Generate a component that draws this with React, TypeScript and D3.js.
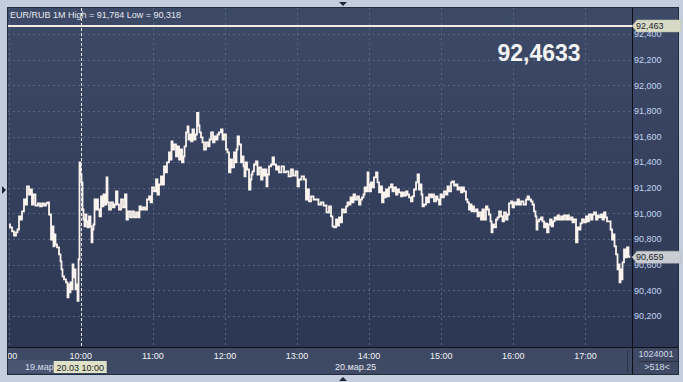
import React from 'react';
import * as d3 from 'd3';

// ---- data (minutes after 09:00 on 20.03, EUR/RUB price) ----
const minutes = [
  0.3,2.0,3.7,5.3,7.0,7.8,9.5,10.3,12.0,13.6,14.5,16.1,17.8,18.6,20.3,21.1,23.6,25.3,27.0,28.6,30.3,32.0,32.8,34.5,36.1,36.9,37.8,38.6,39.4,41.1,42.8,43.6,44.4,45.3,46.9,48.6,49.4,50.3,51.1,51.9,52.8,53.6,54.4,55.3,56.1,56.9,57.8,58.6,59.4,60.2,61.1,61.9,62.7,63.6,64.4,65.2,66.1,67.7,68.6,69.4,70.2,71.1,71.9,72.7,73.6,75.2,76.1,77.7,78.6,79.4,81.1,81.9,82.7,84.4,86.0,87.7,88.5,90.2,91.0,92.7,94.4,96.0,97.7,98.5,100.2,101.9,103.5,105.2,106.9,108.5,
  109.3,111.0,112.7,114.3,116.0,117.7,118.5,120.2,121.8,123.5,124.3,126.0,127.6,128.5,130.1,131.0,132.6,134.3,135.1,136.0,136.8,138.5,140.1,141.0,142.6,143.5,145.1,146.0,146.8,148.5,149.3,150.1,151.0,152.6,153.4,155.1,155.9,157.6,158.4,159.3,160.9,161.8,163.4,165.1,166.8,167.6,169.3,170.9,171.8,173.4,174.3,175.9,177.6,178.4,180.1,181.7,182.6,184.2,185.1,186.7,188.4,189.2,190.1,190.9,192.6,194.2,195.1,195.9,196.7,197.6,199.2,200.9,201.7,202.5,203.4,205.0,206.7,207.5,209.2,210.9,211.7,213.4,214.2,215.0,215.9,217.5,219.2,220.0,221.7,223.4,224.2,225.8,228.3,230.0,231.7,234.2,235.8,237.5,240.0,240.8,242.5,245.0,246.6,248.3,249.1,250.8,252.5,255.0,256.6,259.1,260.8,263.3,265.8,267.5,269.1,270.0,271.6,273.3,274.1,275.8,
  276.6,278.3,279.9,281.6,282.4,284.1,284.9,286.6,287.4,289.1,290.8,292.4,293.3,294.9,295.8,296.6,298.3,299.1,299.9,300.7,302.4,303.2,304.9,306.6,307.4,309.1,309.9,311.6,312.4,313.2,314.9,315.7,317.4,319.0,319.9,321.5,323.2,324.0,325.7,327.4,328.2,329.9,331.5,332.4,334.0,335.7,336.5,338.2,339.9,340.7,342.3,343.2,344.0,344.8,346.5,348.2,349.0,350.7,352.3,353.2,354.8,356.5,357.3,359.0,359.8,361.5,363.1,364.8,365.6,367.3,369.0,369.8,371.5,373.1,374.0,375.6,377.3,378.1,379.8,381.4,382.3,383.9,384.8,385.6,386.4,388.1,389.8,390.6,392.3,393.9,394.8,396.4,398.1,398.9,400.6,401.4,402.3,403.1,404.8,406.4,407.3,408.9,410.6,411.4,413.1,414.7,415.6,417.2,418.9,419.7,421.4,423.1,423.9,425.6,427.2,429.7,431.4,432.2,433.9,435.5,436.4,438.0,438.9,439.7,440.5,442.2,443.9,444.7,446.4,447.2,448.9,449.7,451.4,452.2,453.9,454.7,456.4,457.2,458.9,460.5,461.3,463.0,464.7,465.5,467.2,468.8,469.7,471.3,473.0,473.8,475.5,476.3,478.0,479.6,481.3,482.1,483.8,485.5,486.3,488.0,489.6,490.5,492.1,493.8,494.6,496.3,497.1,498.8,500.5,501.3,503.0,503.8,504.6,506.3,507.1,507.9,508.8,509.6,510.4,511.3,512.9,513.8,515.4,516.3,517.1
];
const prices = [
  90.914,90.891,90.860,90.828,90.852,90.875,90.977,90.953,91.016,91.109,91.070,91.211,91.148,91.187,91.070,91.148,91.062,91.078,91.055,91.078,91.062,91.078,91.086,90.992,90.797,90.899,90.743,90.836,90.758,90.735,90.680,90.626,90.563,90.509,90.485,90.462,90.345,90.446,90.384,90.462,90.407,90.602,90.501,90.563,90.407,90.446,90.318,90.641,91.398,91.304,91.242,91.031,90.953,90.899,90.992,90.938,90.891,90.977,90.899,90.774,90.875,90.914,91.109,91.031,91.109,91.031,90.977,91.133,91.055,91.148,91.070,91.281,91.086,91.031,91.086,91.047,91.070,91.172,91.070,91.031,91.109,91.047,91.148,90.953,91.016,90.969,91.016,90.969,91.008,90.969,
  91.055,91.031,91.047,91.031,91.109,91.133,91.086,91.203,91.172,91.265,91.148,91.226,91.289,91.226,91.367,91.320,91.398,91.476,91.421,91.562,91.499,91.538,91.445,91.523,91.421,91.499,91.398,91.445,91.523,91.632,91.679,91.577,91.616,91.562,91.655,91.577,91.616,91.784,91.686,91.632,91.593,91.554,91.499,91.554,91.523,91.577,91.632,91.554,91.601,91.577,91.616,91.632,91.655,91.577,91.616,91.499,91.476,91.320,91.421,91.359,91.476,91.398,91.499,91.601,91.538,91.398,91.445,91.367,91.289,91.398,91.343,91.187,91.265,91.304,91.328,91.382,91.406,91.304,91.359,91.265,91.343,91.296,91.343,91.211,91.304,91.367,91.382,91.437,91.382,91.343,91.367,91.320,91.367,91.320,91.328,91.289,91.343,91.296,91.328,91.211,91.265,91.289,91.265,91.109,91.187,91.094,91.133,91.109,91.109,91.070,91.086,91.062,91.008,91.055,90.977,90.899,90.891,90.953,90.906,90.969,
  90.930,91.031,91.008,91.055,91.086,91.070,91.125,91.086,91.148,91.109,91.133,91.070,91.109,91.125,91.148,91.203,91.172,91.320,91.226,91.172,91.242,91.203,91.281,91.320,91.242,91.164,91.211,91.086,91.164,91.125,91.187,91.133,91.203,91.226,91.172,91.203,91.148,91.187,91.164,91.133,91.164,91.140,91.172,91.148,91.125,91.094,91.133,91.187,91.242,91.304,91.187,91.226,91.148,91.055,91.070,91.125,91.086,91.148,91.125,91.148,91.094,91.133,91.109,91.070,91.148,91.125,91.172,91.148,91.211,91.172,91.242,91.250,91.218,91.226,91.187,91.203,91.164,91.203,91.172,91.109,91.086,91.031,91.070,91.016,91.055,91.016,91.031,90.977,91.008,90.953,91.031,90.953,91.055,91.031,90.992,90.938,90.852,90.914,90.891,90.953,90.969,91.016,90.977,90.938,91.008,90.953,90.992,91.078,91.094,91.047,91.086,91.070,91.109,91.070,91.094,91.070,91.109,91.133,91.109,91.094,91.070,91.016,90.977,90.875,90.938,90.953,90.969,90.938,90.891,90.922,90.852,90.914,90.953,90.899,90.938,90.969,90.953,90.984,90.953,90.977,90.953,90.984,90.953,90.984,90.953,90.969,90.930,90.953,90.774,90.891,90.875,90.922,90.953,90.930,90.977,90.938,90.992,90.953,90.992,91.008,90.953,90.984,90.969,90.992,90.953,91.008,90.969,90.938,90.938,90.875,90.797,90.836,90.743,90.680,90.563,90.602,90.462,90.563,90.485,90.618,90.719,90.657,90.735,90.665,90.659
];

const hourTicks = [0, 60, 120, 180, 240, 300, 360, 420, 480];
const hourLabels = ['9:00', '10:00', '11:00', '12:00', '13:00', '14:00', '15:00', '16:00', '17:00'];
const yTicks = [90.2, 90.4, 90.6, 90.8, 91.0, 91.2, 91.4, 91.6, 91.8, 92.0, 92.2, 92.4];
const timeDomain = [0, 518.75];
const priceDomain = [90.2, 92.4];
const levelPrice = 92.463;
const levelBigText = '92,4633';
const lastPrice = 90.659;
const cursorMinute = 60;
const cursorLabel = '20.03 10:00';
const prevDayLabel = '19.мар';
const dayLabel = '20.мар.25';
const symbol = 'EUR/RUB';
const interval = '1M';
const counterTop = '1024001';
const counterBottom = '>518<';

const W = 683, H = 382;
const L = 8, T = 8, R = 632, B = 347, PR = 678, PB = 374;
const FONT = '"Liberation Sans", Arial, sans-serif';

const fmt = (v: number) => v.toFixed(3).replace('.', ',');

export default function App() {
  const x = d3.scaleLinear().domain(timeDomain).range([8.6, R]);
  const y = d3.scaleLinear().domain(priceDomain).range([316, 34]);
  const pts = minutes.map((m, i) => [m, prices[i]] as [number, number]);
  const line = d3.line<[number, number]>().x(d => x(d[0])).y(d => y(d[1])).curve(d3.curveStep);
  const hi = d3.max(prices) as number;
  const lo = d3.min(prices) as number;
  const yLevel = y(levelPrice);
  const yLast = y(lastPrice);
  const xc = x(cursorMinute);

  const tag = (yc: number, x0: number, x1: number) =>
    `M${x0},${yc} L${x0 + 5},${yc - 6} L${x1},${yc - 6} L${x1},${yc + 6} L${x0 + 5},${yc + 6} Z`;

  return (
    <svg width={W} height={H} style={{ position: 'fixed', left: 0, top: 0, fontFamily: FONT }}>
      <defs>
        <linearGradient id="bg" x1="0" y1="0" x2="0" y2="1">
          <stop offset="0" stopColor="#3d4a67" />
          <stop offset="1" stopColor="#2c3753" />
        </linearGradient>
        <clipPath id="plot"><rect x={L} y={T} width={R - L} height={B - T} /></clipPath>
        <clipPath id="xax"><rect x={L} y={B} width={R - L - 6} height={PB - B} /></clipPath>
      </defs>
      <rect x={0} y={0} width={W} height={H} fill="#c3cedc" />
      {/* arrows on frame */}
      <path d="M339,2 L347,2 L343,6 Z" fill="#1d2638" />
      <path d="M339,381 L347,381 L343,377 Z" fill="#1d2638" />
      <path d="M2,186 L6,190 L2,194 Z" fill="#1d2638" />
      {/* panel */}
      <rect x={L} y={T} width={PR - L} height={B - T} fill="url(#bg)" />
      <rect x={L} y={B} width={PR - L} height={PB - B} fill="#3e4a64" />
      <rect x={7.5} y={7.5} width={PR - 7} height={PB - 7} fill="none" stroke="#222c40" strokeWidth={1} />

      {/* grid */}
      <g stroke="#56647f" strokeWidth={1} strokeDasharray="2,3">
        {yTicks.map(t => (
          <line key={'h' + t} x1={L} x2={R} y1={Math.round(y(t)) + 0.5} y2={Math.round(y(t)) + 0.5} />
        ))}
        {hourTicks.map(t => (
          <line key={'v' + t} x1={Math.round(x(t)) + 0.5} x2={Math.round(x(t)) + 0.5} y1={T} y2={B} />
        ))}
      </g>

      {/* header */}
      <text x={10} y={18} fontSize={9} fill="#e6e9ef">
        {`${symbol} ${interval} High = ${fmt(hi)} Low = ${fmt(lo)}`}
      </text>

      {/* level line */}
      <line x1={L} x2={R} y1={yLevel} y2={yLevel} stroke="#f2ece4" strokeWidth={2} />
      <text x={539} y={61} fontSize={23} fontWeight="bold" fill="#f4f4f4" textAnchor="middle">{levelBigText}</text>

      {/* price line */}
      <g clipPath="url(#plot)">
        <path d={line(pts) || ''} fill="none" stroke="#fbf3ee" strokeWidth={1.8} strokeLinejoin="miter" />
        <line x1={Math.round(xc) + 0.5} x2={Math.round(xc) + 0.5} y1={T} y2={B} stroke="#f4f4f4" strokeWidth={1} strokeDasharray="3,2" />
      </g>

      {/* axes lines */}
      <line x1={R + 0.5} x2={R + 0.5} y1={T} y2={PB} stroke="#0c0f16" strokeWidth={1} />
      <line x1={L} x2={PR} y1={B + 0.5} y2={B + 0.5} stroke="#0c0f16" strokeWidth={1} />
      <line x1={627.5} x2={627.5} y1={350} y2={372} stroke="#2a3347" strokeWidth={1} />

      {/* right axis labels */}
      <g fontSize={9} fill="#c4d6f2">
        {yTicks.map(t => (
          <text key={'l' + t} x={634} y={y(t) + 3.3}>{fmt(t)}</text>
        ))}
      </g>

      {/* tags */}
      <path d={tag(yLevel, 632, 681)} fill="#d6dac6" stroke="#b8bca8" strokeWidth={0.5} />
      <text x={636} y={yLevel + 3.3} fontSize={9} fill="#1a1d24">{fmt(levelPrice)}</text>
      <path d={tag(yLast, 632, 681)} fill="#c9cdd3" stroke="#aeb2b8" strokeWidth={0.5} />
      <text x={636} y={yLast + 3.3} fontSize={9} fill="#1a1d24">{fmt(lastPrice)}</text>

      {/* x axis */}
      <g clipPath="url(#xax)" fontSize={9} fill="#f0f2f6">
        {hourTicks.map((t, i) => (
          <text key={'x' + t} x={x(t)} y={359} textAnchor="middle">{hourLabels[i]}</text>
        ))}
        <rect x={L} y={360} width={46} height={13} fill="#4a5671" />
        <text x={25} y={370} fill="#d6deee">{prevDayLabel}</text>
        <rect x={xc - 27} y={361} width={53} height={12} fill="#e1e3c8" />
        <text x={xc - 0.5} y={370.5} textAnchor="middle" fill="#1a1d24">{cursorLabel}</text>
        <text x={335} y={370} fill="#e6ebf3">{dayLabel}</text>
      </g>

      {/* counters */}
      <text x={656} y={357} fontSize={9} fill="#d3dae6" textAnchor="middle">{counterTop}</text>
      <line x1={639} x2={678} y1={361.5} y2={361.5} stroke="#27303f" strokeWidth={1} />
      <text x={657} y={370} fontSize={9} fill="#d3dae6" textAnchor="middle">{counterBottom}</text>
    </svg>
  );
}
